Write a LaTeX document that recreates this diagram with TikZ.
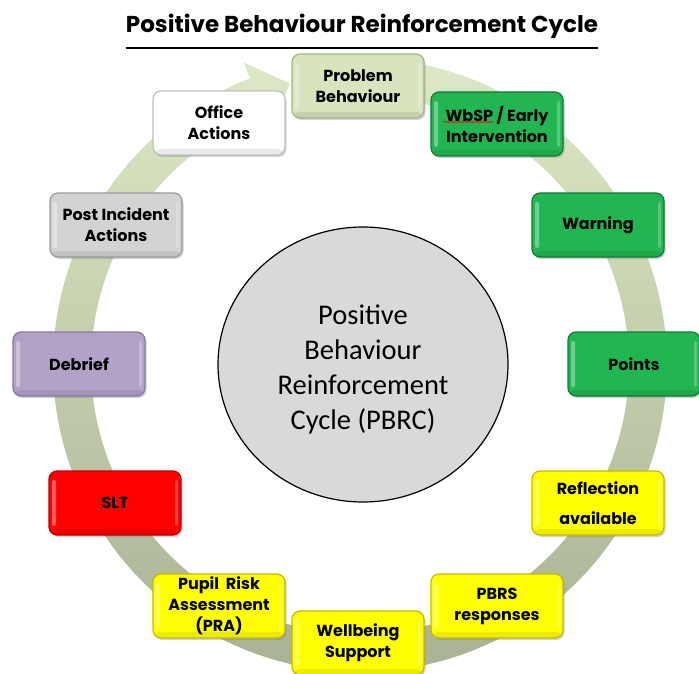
\documentclass[tikz,border=0pt]{standalone}
\usepackage{fontspec}
\setmainfont{Poppins}
\newfontfamily\calib{Carlito}
\usetikzlibrary{shadows,decorations.pathmorphing,calc,shapes.geometric}
\definecolor{ringtop}{HTML}{DCE8C6}
\definecolor{ringbot}{HTML}{A9B293}
\definecolor{pbfill}{HTML}{D7E4BD}
\definecolor{pbdraw}{HTML}{A3B386}
\definecolor{grn}{HTML}{22B652}
\definecolor{grndk}{HTML}{0E7C35}
\definecolor{yel}{HTML}{FFFF00}
\definecolor{yeldk}{HTML}{C9B800}
\definecolor{redf}{HTML}{FF0000}
\definecolor{reddk}{HTML}{C00000}
\definecolor{lav}{HTML}{B3A2C7}
\definecolor{lavdk}{HTML}{8A77A6}
\definecolor{gryf}{HTML}{D3D3D3}
\definecolor{grydk}{HTML}{9A9A9A}
\definecolor{whdk}{HTML}{BFBFBF}
\definecolor{circf}{HTML}{D9D9D9}
\tikzset{
  box/.style={rounded corners=8pt, minimum width=132pt, minimum height=64pt,
    align=center, inner sep=2pt, line width=1.2pt,
    font=\bfseries\fontsize{16}{21}\selectfont,
    drop shadow={shadow xshift=1.5pt, shadow yshift=-2pt, opacity=0.35},
    path picture={
      \fill[white, opacity=0.35, rounded corners=2pt]
        ([xshift=3pt,yshift=-9pt]path picture bounding box.north west) rectangle
        ([xshift=7pt,yshift=9pt]path picture bounding box.south west);
      \fill[white, opacity=0.25, rounded corners=2pt]
        ([xshift=-3pt,yshift=-9pt]path picture bounding box.north east) rectangle
        ([xshift=-6pt,yshift=9pt]path picture bounding box.south east);
      \fill[black, opacity=0.08]
        ([yshift=6pt]path picture bounding box.south west) rectangle
        (path picture bounding box.south east);
    }},
  centretext/.style={align=center, font=\calib\fontsize{28.5}{35}\selectfont},
  titletext/.style={inner sep=0pt, anchor=base, font=\bfseries\fontsize{23}{26}\selectfont}
}
\begin{document}
\begin{tikzpicture}[x=1pt,y=-1pt]
\useasboundingbox (0,0) rectangle (699,674);
% circular arrow
\shade[top color=ringtop, bottom color=ringbot]
  plot[domain=-92:249, samples=160] ({360+307*cos(\x)},{365+307*sin(\x)})
  -- ({360+324*cos(249)},{365+324*sin(249)})
  -- ({360+290*cos(256)},{365+290*sin(256)})
  -- ({360+252*cos(249)},{365+252*sin(249)})
  -- plot[domain=249:-92, samples=160] ({360+269*cos(\x)},{365+269*sin(\x)})
  -- cycle;
% title
\node[titletext] (title) at (362,33) {Positive Behaviour Reinforcement Cycle};
\draw[line width=2.2pt] ([yshift=-15pt]title.base west) -- ([yshift=-15pt]title.base east);
% centre
\node[draw=black, line width=1.2pt, fill=circf, ellipse, inner sep=0pt, minimum width=290pt, minimum height=275pt] (centre) at (363,364.5) {};
\node[centretext] (ctext) at (363,369) {Positive\\Behaviour\\Reinforcement\\Cycle (PBRC)};
% boxes
\node[box, fill=pbfill, draw=pbdraw] (pb) at (358,86) {Problem\\Behaviour};
\node[box, fill=grn, draw=grndk] (wbsp) at (497,124) {WbSP / Early\\Intervention};
\node[box, fill=grn, draw=grndk] (warn) at (598,225) {Warning};
\node[box, fill=grn, draw=grndk] (pts) at (634,364) {Points};
\node[box, fill=yel, draw=yeldk, font=\bfseries\fontsize{16}{30}\selectfont] (refl) at (598,503) {Reflection\\available};
\node[box, fill=yel, draw=yeldk] (pbrs) at (497,606) {PBRS\\responses};
\node[box, fill=yel, draw=yeldk] (well) at (358,643) {Wellbeing\\Support};
\node[box, fill=yel, draw=yeldk] (pra) at (219,606) {Pupil~ Risk\\Assessment\\(PRA)};
\node[box, fill=redf, draw=reddk] (slt) at (115,503) {SLT};
\node[box, fill=lav, draw=lavdk] (deb) at (79,364) {Debrief};
\node[box, fill=gryf, draw=grydk] (post) at (116,225) {Post Incident\\Actions};
\node[box, fill=white, draw=whdk] (off) at (219,123) {Office\\Actions};
% spell-check squiggle under WbSP
\draw[red, line width=0.6pt, decorate, decoration={snake, amplitude=0.8pt, segment length=3pt}]
  ([xshift=-54pt, yshift=2pt]wbsp.center) -- ([xshift=-4pt, yshift=2pt]wbsp.center);
\end{tikzpicture}
\end{document}
